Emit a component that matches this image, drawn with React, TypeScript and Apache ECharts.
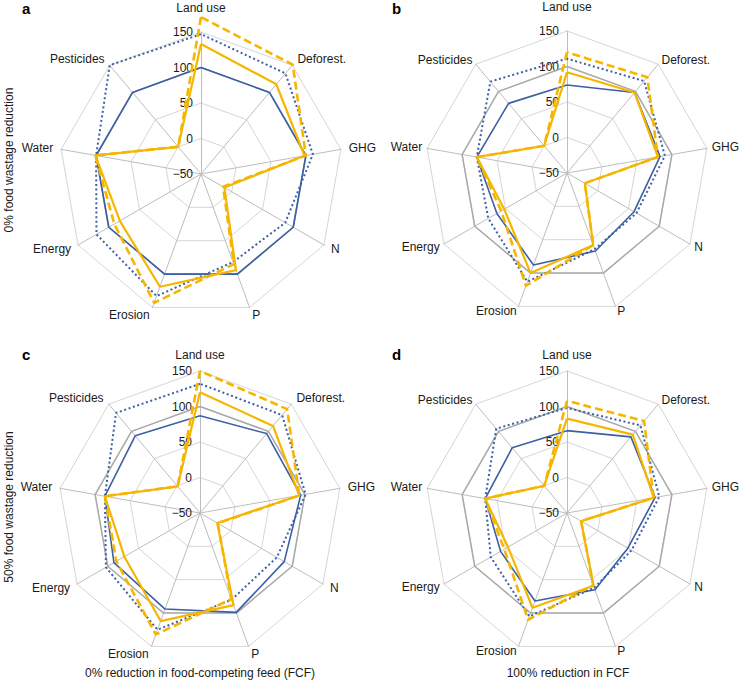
import React, { useEffect, useRef } from 'react';
import * as echarts from 'echarts';

// Indicators in reading (clockwise) order starting at the top
const INDICATORS = ['Land use', 'Deforest.', 'GHG', 'N', 'P', 'Erosion', 'Energy', 'Water', 'Pesticides'];
const AXIS_MIN = -50;
const AXIS_MAX = 150;

// Values, same order as INDICATORS
const REFERENCE = [100, 100, 100, 100, 100, 100, 100, 100, 100];

const A_BLUE_SOLID = [100, 100, 100, 100, 100, 100, 100, 100, 100];
const A_BLUE_DOTTED = [147, 135, 110, 87, 82, 133, 120, 100, 150];
const A_YELLOW_SOLID = [133, 115, 98, -12, 94, 119, 82, 101, 0];
const A_YELLOW_DASHED = [171, 151, 100, -14, 85, 143, 91, 101, 0];

const B_BLUE_SOLID = [74, 98, 83, 59, 67, 88, 64, 79, 78];
const B_BLUE_DOTTED = [111, 119, 90, 63, 64, 113, 78, 79, 118];
const B_YELLOW_SOLID = [92, 98, 80, -21, 58, 100, 52, 79, 0];
const B_YELLOW_DASHED = [120, 126, 80, -21, 58, 119, 57, 79, 0];

const C_BLUE_SOLID = [87, 96, 94, 87, 99, 94, 90, 86, 92];
const C_BLUE_DOTTED = [132, 130, 101, 75, 80, 125, 103, 86, 134];
const C_YELLOW_SOLID = [120, 110, 92, -22, 88, 112, 73, 86, -1];
const C_YELLOW_DASHED = [150, 141, 92, -21, 79, 132, 86, 86, -1];

const D_BLUE_SOLID = [66, 90, 76, 49, 65, 82, 58, 67, 70];
const D_BLUE_DOTTED = [98, 111, 82, 55, 62, 105, 74, 67, 105];
const D_YELLOW_SOLID = [83, 94, 74, -27, 59, 92, 46, 67, 0];
const D_YELLOW_DASHED = [108, 119, 74, -27, 58, 110, 52, 67, 0];

const PANEL_LETTERS = ['a', 'b', 'c', 'd'];
const ROW_TITLES = ['0% food wastage reduction', '50% food wastage reduction'];
const COL_TITLES = ['0% reduction in food-competing feed (FCF)', '100% reduction in FCF'];

const PANEL_DATA = [
  [A_BLUE_SOLID, A_BLUE_DOTTED, A_YELLOW_SOLID, A_YELLOW_DASHED],
  [B_BLUE_SOLID, B_BLUE_DOTTED, B_YELLOW_SOLID, B_YELLOW_DASHED],
  [C_BLUE_SOLID, C_BLUE_DOTTED, C_YELLOW_SOLID, C_YELLOW_DASHED],
  [D_BLUE_SOLID, D_BLUE_DOTTED, D_YELLOW_SOLID, D_YELLOW_DASHED],
];

// layout
const PANELS = [
  { cx: 201, cy: 174, topPad: 10, gap: 8 },
  { cx: 567, cy: 173, topPad: 13, gap: 5 },
  { cx: 200, cy: 513, topPad: 2, gap: 8 },
  { cx: 567, cy: 513, topPad: 5, gap: 5 },
];
const RADIUS = 142;
const FONT = '"Liberation Sans", Arial, Helvetica, sans-serif';
const TEXT = '#1a1a1a';
const BLUE = '#3C5FA5';
const YELLOW = '#F6B600';
const GREY_REF = '#A9A9A9';

// ECharts places indicators counter-clockwise; reorder to clockwise reading
const ORDER = [0, 8, 7, 6, 5, 4, 3, 2, 1];
const reorder = (arr: number[]) => ORDER.map((i) => arr[i]);

function buildOption() {
  const radar = PANELS.map((p) => ({
    center: [p.cx, p.cy],
    radius: RADIUS,
    startAngle: 90,
    shape: 'polygon',
    splitNumber: 4,
    nameGap: p.gap,
    indicator: ORDER.map((i, k) => {
      const ind: any = { name: INDICATORS[i], min: AXIS_MIN, max: AXIS_MAX };
      if (k === 0) ind.axisLabel = { show: true };
      return ind;
    }),
    axisName: {
      color: TEXT,
      fontSize: 12,
      fontFamily: FONT,
      formatter: (name: string) => (name === 'Land use' ? '{top|' + name + '}' : name),
      rich: {
        top: { color: TEXT, fontSize: 12, fontFamily: FONT, padding: [0, 0, p.topPad, 0] },
      },
    },
    axisLine: { show: true, lineStyle: { color: '#BDBDBD', width: 1 } },
    splitLine: { show: true, lineStyle: { color: '#D6D6D6', width: 1 } },
    splitArea: { show: false },
    axisTick: { show: false },
    axisLabel: {
      show: false,
      color: TEXT,
      fontSize: 12,
      fontFamily: FONT,
      margin: 8,
      formatter: (v: number) => String(v).replace('-', '\u2212'),
    },
  }));

  const series = PANEL_DATA.map((d, p) => ({
    type: 'radar',
    radarIndex: p,
    symbol: 'none',
    silent: true,
    data: [
      { value: reorder(REFERENCE), lineStyle: { color: GREY_REF, width: 1.5 } },
      { value: reorder(d[0]), lineStyle: { color: BLUE, width: 1.6 } },
      { value: reorder(d[1]), lineStyle: { color: BLUE, width: 2, type: [2, 2.6] } },
      { value: reorder(d[2]), lineStyle: { color: YELLOW, width: 2.2 } },
      { value: reorder(d[3]), lineStyle: { color: YELLOW, width: 2.6, type: [8, 4] } },
    ],
  }));

  const graphic: any[] = [];
  PANEL_LETTERS.forEach((l, i) => {
    graphic.push({
      type: 'text',
      left: i % 2 === 0 ? 22 : 392,
      top: i < 2 ? 1 : 347,
      style: { text: l, fontSize: 15, fontWeight: 'bold', fill: '#000', fontFamily: FONT },
    });
  });
  ROW_TITLES.forEach((t, i) => {
    graphic.push({
      type: 'text',
      x: 9,
      y: i === 0 ? 160 : 507,
      rotation: Math.PI / 2,
      style: {
        text: t,
        fontSize: 12,
        fill: TEXT,
        fontFamily: FONT,
        textAlign: 'center',
        textVerticalAlign: 'middle',
      },
    });
  });
  COL_TITLES.forEach((t, i) => {
    graphic.push({
      type: 'text',
      x: i === 0 ? 200 : 568,
      y: 673,
      style: {
        text: t,
        fontSize: 12,
        fill: TEXT,
        fontFamily: FONT,
        textAlign: 'center',
        textVerticalAlign: 'middle',
      },
    });
  });

  return {
    animation: false,
    backgroundColor: '#fff',
    radar,
    series,
    graphic,
  };
}

export default function App() {
  const ref = useRef<HTMLDivElement>(null);
  useEffect(() => {
    if (!ref.current) return;
    const chart = echarts.init(ref.current, null, { renderer: 'svg' });
    chart.setOption(buildOption() as any);
    return () => chart.dispose();
  }, []);
  return (
    <div
      ref={ref}
      style={{ position: 'fixed', left: 0, top: 0, width: 741, height: 681, background: '#fff' }}
    />
  );
}
